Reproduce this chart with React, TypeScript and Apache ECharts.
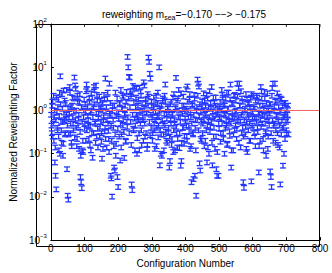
import React, { useEffect, useRef } from "react";
import * as echarts from "echarts";

// Normalized reweighting factor, even configurations (2, 4, ..., 706)
const factorsEven: number[] = [
  0.45, 1.3, 0.25, 2.2, 0.7, 0.063, 0.031, 0.015, 0.9, 0.35, 1.8, 0.12, 2.6, 6.2, 0.55, 0.18, 1.1, 0.09, 2.9, 0.6, 0.28, 1.5, 0.8, 0.044, 0.0107,
  0.0087, 0.7, 3.5, 0.3, 1.2, 0.15, 2.0, 0.5, 0.95, 5.8, 3.8, 3.2, 0.4, 0.22, 1.6, 0.65, 0.13, 2.4, 0.029, 0.022, 0.016, 0.12, 0.11, 1.0, 0.38,
  1.4, 0.2, 4.0, 3.1, 0.75, 0.45, 1.9, 0.16, 0.9, 2.5, 0.3, 0.081, 1.2, 3.5, 3.0, 0.55, 3.8, 0.25, 1.7, 0.14, 0.85, 2.1, 0.42, 1.1, 0.19,
  0.077, 1.5, 0.6, 2.3, 0.33, 5.5, 0.95, 0.14, 1.9, 0.5, 0.22, 4.2, 0.75, 0.031, 0.027, 0.0102, 1.3, 0.4, 0.048, 0.041, 2.6, 0.17, 0.9, 0.029, 0.017,
  0.65, 1.4, 0.07, 3.0, 0.28, 1.1, 0.45, 2.0, 0.08, 0.8, 0.2, 1.6, 0.55, 17.4, 10, 6.0, 5.8, 2.8, 2.1, 0.0195, 0.0144, 3.7, 0.35, 3.4, 0.12,
  1.2, 3.2, 0.1, 0.7, 1.8, 0.3, 3.4, 0.5, 2.2, 0.16, 1.0, 0.6, 4.5, 3.8, 0.25, 1.5, 0.85, 0.13, 2.4, 16.8, 13.4, 7.1, 5.5, 0.4, 1.3,
  0.2, 0.9, 2.0, 0.35, 0.6, 1.4, 0.15, 0.75, 2.6, 0.45, 10, 0.054, 1.1, 0.28, 0.09, 1.7, 0.5, 0.12, 2.2, 4.0, 0.32, 0.8, 0.18, 1.2, 0.4,
  0.048, 0.068, 0.6, 1.6, 0.22, 0.85, 0.11, 2.4, 0.5, 1.1, 5.7, 0.3, 0.14, 1.9, 3.0, 0.135, 0.7, 0.053, 0.068, 1.3, 0.4, 2.1, 0.17, 0.95, 0.55,
  3.1, 0.25, 3.6, 1.0, 0.45, 1.8, 0.13, 0.7, 0.022, 1.4, 0.3, 0.026, 2.3, 0.031, 0.6, 0.0107, 1.2, 5.2, 4.2, 3.6, 0.06, 0.041, 0.9, 0.2, 1.6,
  0.5, 2.5, 0.15, 0.8, 1.3, 0.35, 0.063, 1.9, 0.6, 0.1, 2.8, 0.42, 1.1, 3.5, 0.054, 0.75, 0.25, 1.5, 0.13, 2.0, 0.044, 0.031, 0.9, 0.031, 0.38,
  1.2, 0.19, 0.65, 3.0, 2.3, 0.3, 1.4, 0.1, 0.8, 1.9, 0.45, 0.16, 1.1, 2.6, 0.55, 0.26, 4.0, 0.048, 1.5, 0.7, 0.12, 2.2, 0.35, 0.95, 1.7,
  0.22, 4.2, 0.6, 3.3, 4.2, 1.3, 0.14, 0.8, 1.9, 0.4, 0.022, 0.0163, 1.0, 0.28, 2.4, 0.55, 0.11, 1.5, 0.7, 0.2, 1.2, 2.0, 0.023, 0.45, 0.9,
  2.2, 0.3, 1.1, 0.15, 0.65, 2.2, 0.4, 1.6, 0.037, 0.85, 0.2, 3.5, 2.8, 0.5, 1.3, 0.12, 0.75, 1.9, 0.33, 0.09, 1.0, 2.5, 0.25, 0.6, 1.4,
  0.039, 0.029, 0.017, 3.3, 4.2, 0.45, 1.2, 4.2, 0.18, 0.8, 1.7, 0.3, 0.55, 2.1, 0.14, 0.0195, 1.0, 1.8, 0.4, 0.053, 0.7, 1.5, 0.22, 0.9, 0.35,
  1.1, 0.6, 0.28,
];

// Normalized reweighting factor, odd configurations (1, 3, ..., 705)
const factorsOdd: number[] = [
  0.8, 0.3, 1.6, 0.5, 0.2, 1.0, 0.14, 0.6, 2.0, 0.4, 1.2, 0.25, 0.75, 0.1, 1.4, 0.35, 2.4, 0.55, 0.17, 0.9, 1.7, 0.3, 0.65, 3.0, 0.45,
  1.1, 0.28, 0.85, 2.6, 0.5, 0.18, 1.3, 0.7, 0.35, 1.9, 0.24, 0.6, 1.0, 0.15, 2.2, 0.45, 0.8, 1.5, 0.32, 0.09, 1.2, 0.55, 0.2, 0.7, 1.8,
  0.5, 0.9, 2.8, 0.35, 1.2, 0.6, 0.22, 1.6, 0.42, 0.12, 1.0, 2.0, 0.7, 0.3, 1.4, 0.5, 0.18, 0.9, 2.3, 0.38, 0.65, 1.2, 0.26, 1.7, 0.55,
  0.3, 1.0, 0.13, 0.7, 1.8, 0.4, 0.22, 1.2, 0.6, 2.6, 0.34, 0.11, 0.85, 1.5, 0.45, 0.2, 1.0, 0.62, 0.15, 1.3, 0.28, 0.09, 0.75, 1.9, 0.38,
  0.9, 0.25, 1.5, 0.5, 0.14, 1.1, 2.2, 0.6, 0.32, 0.85, 1.3, 0.19, 2.7, 0.42, 0.7, 1.9, 0.3, 1.2, 0.55, 0.16, 2.4, 0.8, 0.38, 1.5, 0.65,
  0.45, 2.0, 0.8, 0.23, 1.3, 0.6, 0.12, 0.95, 2.8, 0.35, 1.5, 0.7, 0.2, 1.1, 0.5, 1.8, 0.3, 0.9, 0.16, 1.3, 2.1, 0.55, 0.27, 0.8, 1.6,
  0.7, 0.3, 1.2, 0.5, 0.13, 0.9, 2.2, 0.4, 1.5, 0.24, 0.7, 1.0, 0.35, 0.1, 1.3, 0.6, 1.9, 0.28, 0.85, 0.45, 1.6, 0.2, 0.65, 1.1, 0.3,
  0.9, 0.25, 1.4, 0.5, 0.16, 0.8, 2.0, 0.35, 0.6, 0.12, 1.2, 0.42, 1.7, 0.22, 0.7, 1.0, 0.3, 0.55, 2.5, 0.18, 0.85, 0.4, 1.3, 0.26, 0.65,
  1.1, 0.45, 0.2, 1.6, 0.7, 0.33, 2.4, 0.9, 0.15, 0.5, 1.3, 0.28, 0.8, 1.9, 0.4, 0.12, 1.0, 0.6, 2.2, 0.35, 0.75, 1.4, 0.22, 0.55, 1.2,
  0.3, 1.0, 0.6, 1.7, 0.2, 0.85, 2.3, 0.45, 0.14, 1.2, 0.7, 0.32, 1.5, 0.55, 0.18, 0.95, 2.0, 0.4, 0.65, 1.3, 0.25, 0.8, 0.11, 1.1, 0.5,
  0.7, 1.6, 0.3, 1.0, 0.5, 2.0, 0.22, 0.85, 1.3, 0.4, 0.6, 2.6, 0.17, 1.1, 0.75, 0.33, 1.8, 0.5, 0.12, 0.9, 1.4, 0.28, 0.65, 2.3, 0.45,
  1.0, 0.38, 2.1, 0.7, 0.18, 1.3, 0.55, 2.8, 0.3, 0.9, 1.6, 0.25, 0.6, 1.1, 0.42, 0.13, 1.8, 0.8, 0.35, 1.4, 0.5, 0.2, 0.95, 2.4, 0.65,
  0.4, 1.2, 0.7, 0.25, 1.7, 0.55, 2.0, 0.32, 0.9, 0.15, 1.3, 0.6, 0.42, 1.9, 0.8, 0.22, 1.1, 2.7, 0.5, 0.3, 1.5, 0.7, 0.13, 1.0, 0.45,
  0.85, 1.4, 0.3, 2.2, 0.6, 0.2, 1.0, 0.5, 1.6, 0.35, 0.75, 2.5, 0.16, 1.2, 0.45, 0.9, 1.9, 0.28, 0.6, 1.3, 0.4, 0.1, 0.8, 1.5, 0.55,
  0.3, 0.8, 1.3,
];
const configsEven: number[] = factorsEven.map((_, i) => 2 + 2 * i);
const configsOdd: number[] = factorsOdd.map((_, i) => 1 + 2 * i);
const relError = 0.12;

const xTickValues = [0, 100, 200, 300, 400, 500, 600, 700, 800];
const yDecades = [0.001, 0.01, 0.1, 1, 10, 100];
const minorTickValues: number[] = [];
for (let k = 0; k < yDecades.length - 1; k++) {
  for (let m = 2; m <= 9; m++) minorTickValues.push(yDecades[k] * m);
}

const BLUE = "#2236ff";
const FONT = "Liberation Sans";
const GRID = { left: 36, right: 12, top: 24, bottom: 26 };
const W = 332;
const H = 273;

export default function App() {
  const ref = useRef<HTMLDivElement>(null);
  useEffect(() => {
    if (!ref.current) return;
    const chart = echarts.init(ref.current, undefined, { renderer: "svg" });
    const errData: number[][] = [];
    configsOdd.forEach((c, i) => {
      const v = factorsOdd[i];
      errData.push([c, v * (1 - relError), v * (1 + relError), v]);
    });
    configsEven.forEach((c, i) => {
      const v = factorsEven[i];
      errData.push([c, v * (1 - relError), v * (1 + relError), v]);
    });
    const axisBase = {
      axisLine: { show: true, onZero: false, lineStyle: { color: "#000", width: 1 } },
      axisTick: { show: true, inside: true, length: 3, lineStyle: { color: "#000" } },
      splitLine: { show: false },
    };
    // tick marks mirrored on the top and right sides (box on)
    const frameTicks: number[][] = [];
    xTickValues.forEach((x) => frameTicks.push([0, x, 100]));
    yDecades.forEach((y) => frameTicks.push([1, 800, y, 3]));
    minorTickValues.forEach((y) => frameTicks.push([1, 800, y, 2]));
    minorTickValues.forEach((y) => frameTicks.push([2, 0, y, 2]));

    const option: any = {
      animation: false,
      backgroundColor: "#ffffff",
      textStyle: { fontFamily: FONT },
      title: {
        text: "reweighting m{sub|sea}=−0.170 −−> −0.175",
        left: 179,
        textAlign: "center",
        top: 3,
        textStyle: {
          fontFamily: FONT,
          fontSize: 10,
          fontWeight: "normal",
          color: "#000",
          rich: {
            sub: { fontSize: 7, verticalAlign: "bottom", padding: [6, 0, 0, 0], fontFamily: FONT, color: "#000" },
          },
        },
      },
      grid: { ...GRID, containLabel: false },
      graphic: [
        {
          type: "rect",
          silent: true,
          z: 100,
          shape: {
            x: GRID.left + 0.5,
            y: GRID.top + 0.5,
            width: W - GRID.left - GRID.right - 1,
            height: H - GRID.top - GRID.bottom - 1,
          },
          style: { fill: "none", stroke: "#000", lineWidth: 1 },
        },
      ],
      xAxis: {
        type: "value",
        min: 0,
        max: 800,
        interval: 100,
        name: "Configuration Number",
        nameLocation: "middle",
        nameGap: 13,
        nameTextStyle: { fontFamily: FONT, fontSize: 10, color: "#000" },
        ...axisBase,
        axisLabel: { fontFamily: FONT, fontSize: 10, color: "#000", margin: 3 },
      },
      yAxis: {
        type: "log",
        logBase: 10,
        min: 0.001,
        max: 100,
        name: "Normalized Reweighting Factor",
        nameLocation: "middle",
        nameGap: 23,
        nameTextStyle: { fontFamily: FONT, fontSize: 10, color: "#000" },
        ...axisBase,
        axisLabel: {
          margin: 4,
          fontFamily: FONT,
          fontSize: 10,
          color: "#000",
          formatter: (v: number) => {
            const e = Math.round(Math.log10(v));
            const s = e < 0 ? "−" + String(-e) : String(e);
            return "{b|10}{s|" + s + "}";
          },
          rich: {
            b: { fontFamily: FONT, fontSize: 10, color: "#000" },
            s: { fontFamily: FONT, fontSize: 6, color: "#000", verticalAlign: "top", padding: [0, 0, 8, 0] },
          },
        },
      },
      series: [
        {
          type: "custom",
          name: "frameTicks",
          silent: true,
          clip: false,
          data: frameTicks,
          renderItem: (params: any, api: any) => {
            const kind = api.value(0);
            const cs = params.coordSys;
            const st = { stroke: "#000", lineWidth: 0.8 };
            if (kind === 0) {
              const p = api.coord([api.value(1), api.value(2)]);
              return { type: "line", shape: { x1: p[0], y1: cs.y, x2: p[0], y2: cs.y + 3 }, style: st };
            }
            const len = api.value(3);
            const p = api.coord([api.value(1), api.value(2)]);
            const dir = kind === 1 ? -1 : 1;
            return { type: "line", shape: { x1: p[0], y1: p[1], x2: p[0] + dir * len, y2: p[1] }, style: st };
          },
          z: 5,
        },
        {
          type: "custom",
          name: "factors",
          data: errData,
          renderItem: (params: any, api: any) => {
            const x = api.value(0);
            const top = api.coord([x, api.value(2)]);
            const bot = api.coord([x, api.value(1)]);
            const w = 3;
            const st = { stroke: BLUE, lineWidth: 1.3 };
            return {
              type: "group",
              children: [
                { type: "line", shape: { x1: top[0], y1: top[1], x2: bot[0], y2: bot[1] }, style: st },
                { type: "line", shape: { x1: top[0] - w, y1: top[1], x2: top[0] + w, y2: top[1] }, style: st },
                { type: "line", shape: { x1: bot[0] - w, y1: bot[1], x2: bot[0] + w, y2: bot[1] }, style: st },
              ],
            };
          },
          z: 2,
        },
        {
          type: "line",
          name: "unity",
          data: [
            [0, 1],
            [800, 1],
          ],
          symbol: "none",
          lineStyle: { color: "#f06060", width: 1 },
          silent: true,
          z: 4,
        },
      ],
    };
    chart.setOption(option);
    return () => chart.dispose();
  }, []);
  return (
    <div
      ref={ref}
      style={{ position: "fixed", left: 0, top: 0, width: W, height: H, background: "#fff" }}
    />
  );
}
